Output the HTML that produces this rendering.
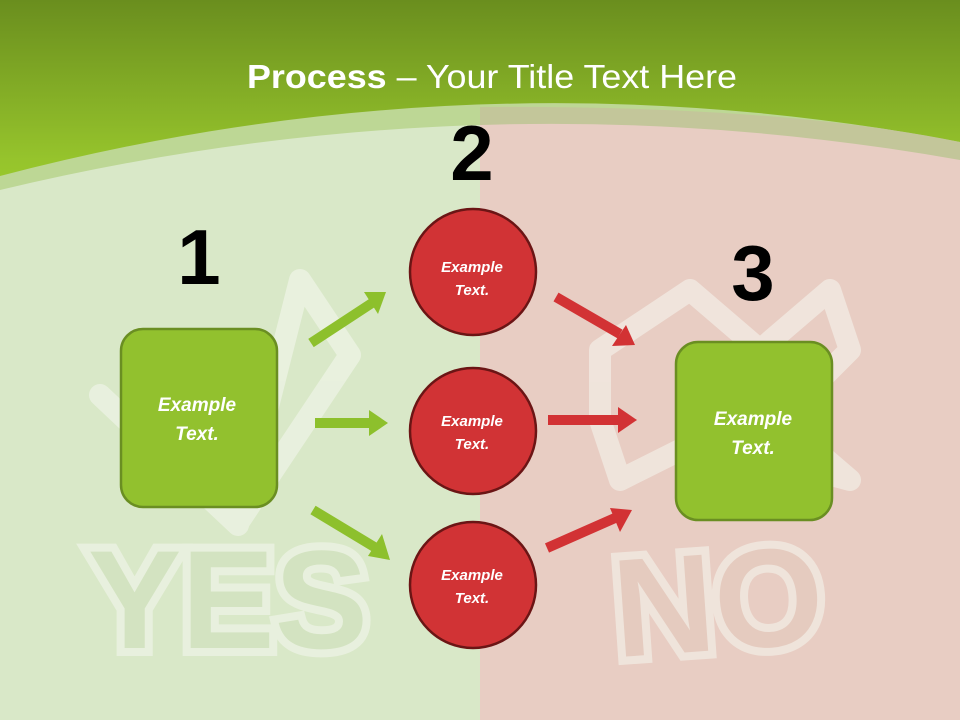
<!DOCTYPE html>
<html><head><meta charset="utf-8"><style>
html,body{margin:0;padding:0;width:960px;height:720px;overflow:hidden}
svg{display:block}
</style></head><body>
<svg width="960" height="720" viewBox="0 0 960 720" xmlns="http://www.w3.org/2000/svg">
<defs>
<linearGradient id="top" gradientUnits="userSpaceOnUse" x1="0" y1="0" x2="0" y2="200">
<stop offset="0" stop-color="#6a8e1e"/><stop offset="0.8" stop-color="#96c42c"/><stop offset="1" stop-color="#9aca2c"/>
</linearGradient>
<clipPath id="below"><path d="M0,190 Q480,75 960,160 L960,720 L0,720 Z"/></clipPath>
</defs>
<rect width="960" height="720" fill="url(#top)"/>
<path d="M0,176 Q480,50 960,142 L960,720 L0,720 Z" fill="#bdd795"/>
<path d="M480,107 Q780,105 960,142 L960,720 L480,720 Z" fill="#c3c69a"/>
<g clip-path="url(#below)">
<rect x="0" y="0" width="480" height="720" fill="#d9e8c8"/>
<rect x="480" y="0" width="480" height="720" fill="#e8cdc3"/>
</g>
<!-- watermarks -->
<g opacity="0.55">
<path d="M100,395 L238,525 L300,280 L350,355 L240,520" fill="none" stroke="#f6f8f0" stroke-width="22" stroke-linejoin="round" stroke-linecap="round"/>
<path d="M600,350 L690,290 L760,350 L830,290 L850,350 L780,420 L850,480 L700,440 L620,480 L600,420 Z" fill="none" stroke="#f6f8f0" stroke-width="22" stroke-linejoin="round"/>
<text x="228" y="648" text-anchor="middle" font-family="Liberation Sans, sans-serif" font-weight="bold" font-size="140" fill="#cfe0bc" stroke="#f6f8f0" stroke-width="16" paint-order="stroke">YES</text>
<text x="718" y="650" text-anchor="middle" font-family="Liberation Sans, sans-serif" font-weight="bold" font-size="140" fill="#e3cbbd" stroke="#f6f8f0" stroke-width="16" paint-order="stroke" transform="rotate(-4 718 600)">NO</text>
</g>
<text x="492" y="88" text-anchor="middle" font-family="Liberation Sans, sans-serif" font-size="33" fill="#fff" textLength="490" lengthAdjust="spacingAndGlyphs"><tspan font-weight="bold">Process</tspan> – Your Title Text Here</text>
<g font-family="Liberation Sans, sans-serif" font-weight="bold" font-size="78" fill="#000" text-anchor="middle">
<text x="472" y="180">2</text><text x="199" y="284">1</text><text x="753" y="300">3</text>
</g>
<!-- arrows -->
<g stroke-width="10" fill="none">
<line x1="311" y1="343" x2="372" y2="303" stroke="#8dc02c"/>
<line x1="315" y1="423" x2="372" y2="423" stroke="#8dc02c"/>
<line x1="313" y1="510" x2="376" y2="548" stroke="#8dc02c"/>
<line x1="556" y1="297" x2="620" y2="334" stroke="#d23234"/>
<line x1="548" y1="420" x2="620" y2="420" stroke="#d23234"/>
<line x1="547" y1="548" x2="615" y2="518" stroke="#d23234"/>
</g>
<g fill="#8dc02c">
<polygon points="386,292 364,292 378,314"/>
<polygon points="388,423 369,410 369,436"/>
<polygon points="390,560 382,534 368,556"/>
</g>
<g fill="#d23234">
<polygon points="635,345 612,346 626,325"/>
<polygon points="637,420 618,407 618,433"/>
<polygon points="632,510 610,508 620,532"/>
</g>
<!-- boxes -->
<g font-family="Liberation Sans, sans-serif" font-weight="bold" font-style="italic" fill="#fff" text-anchor="middle">
<rect x="121" y="329" width="156" height="178" rx="22" fill="#92c12e" stroke="#6a8e22" stroke-width="2.5"/>
<text x="197" y="411" font-size="19">Example</text><text x="197" y="440" font-size="19">Text.</text>
<rect x="676" y="342" width="156" height="178" rx="22" fill="#92c12e" stroke="#6a8e22" stroke-width="2.5"/>
<text x="753" y="425" font-size="19">Example</text><text x="753" y="454" font-size="19">Text.</text>
<circle cx="473" cy="272" r="63" fill="#d13335" stroke="#6b1515" stroke-width="2.5"/>
<text x="472" y="272" font-size="15">Example</text><text x="472" y="295" font-size="15">Text.</text>
<circle cx="473" cy="431" r="63" fill="#d13335" stroke="#6b1515" stroke-width="2.5"/>
<text x="472" y="426" font-size="15">Example</text><text x="472" y="449" font-size="15">Text.</text>
<circle cx="473" cy="585" r="63" fill="#d13335" stroke="#6b1515" stroke-width="2.5"/>
<text x="472" y="580" font-size="15">Example</text><text x="472" y="603" font-size="15">Text.</text>
</g>
</svg>
</body></html>
